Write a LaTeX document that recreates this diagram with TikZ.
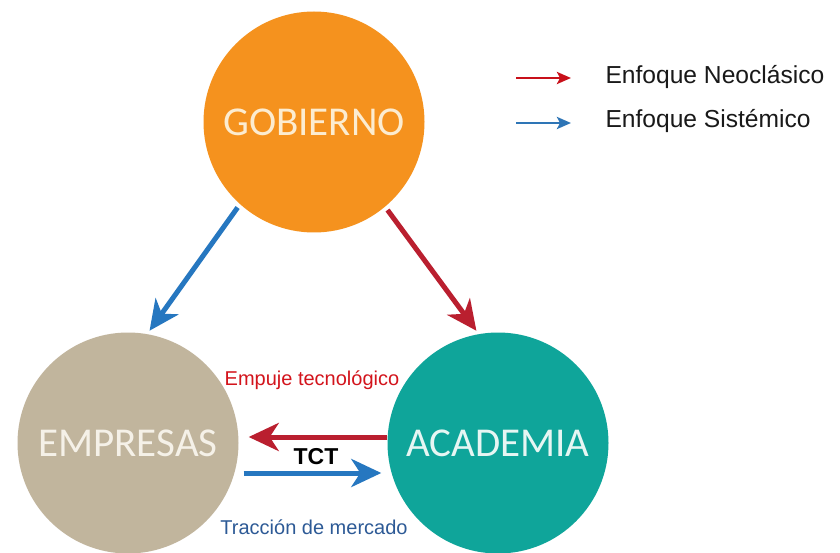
\documentclass[tikz,border=0pt]{standalone}
\usepackage{fontspec}
\setmainfont{Liberation Sans}
\newfontfamily\circfont{Carlito}
\usetikzlibrary{arrows.meta}
\definecolor{orangeC}{HTML}{F5921E}
\definecolor{beigeC}{HTML}{C1B59D}
\definecolor{tealC}{HTML}{0FA59A}
\definecolor{redA}{HTML}{BA1F2F}
\definecolor{blueA}{HTML}{2677C0}
\definecolor{redL}{HTML}{C8101A}
\definecolor{blueL}{HTML}{2E75B6}
\definecolor{redT}{HTML}{D3141C}
\definecolor{blueT}{HTML}{2D5A96}
\tikzset{
  actor/.style={circle, minimum size=221pt, inner sep=0pt, font=\circfont\fontsize{41}{41}\selectfont},
  bigarrow/.style={line width=5pt, -{Stealth[length=30pt,width=28pt,inset=9pt]}},
  legarrow/.style={line width=2.8pt, -{Stealth[length=14pt,width=12pt,inset=3pt]}},
  legtext/.style={anchor=west, font=\fontsize{24.6}{24.6}\selectfont, text=black!90},
  flowlabel/.style={font=\fontsize{20}{20}\selectfont}
}
\begin{document}
\begin{tikzpicture}[x=1pt,y=1pt]
\useasboundingbox (0,0) rectangle (840,552);
\fill[white] (0,0) rectangle (840,552);
% circles
\node[actor, fill=orangeC, text={rgb,255:red,252;green,236;blue,208}] (gob) at (314,430) {GOBIERNO};
\node[actor, fill=beigeC, text={rgb,255:red,245;green,241;blue,232}] (emp) at (128,109) {EMPRESAS};
\node[actor, fill=tealC, text={rgb,255:red,230;green,246;blue,243}] (aca) at (498,109) {ACADEMIA};
% diagonal arrows
\draw[bigarrow, blueA, shorten <=4pt, shorten >=4pt] (gob.228) -- (emp.80);
\draw[bigarrow, redA, shorten <=4pt, shorten >=4pt] (gob.310) -- (aca.100);
% horizontal arrows
\draw[bigarrow, redA] ([yshift=6pt]aca.west) -- ([shift={(10pt,6pt)}]emp.east);
\draw[bigarrow, blueA] ([shift={(5pt,-30pt)}]emp.east) -- ([shift={(-6pt,-30pt)}]aca.west);
% labels
\node[flowlabel, text=redT] (empuje) at (312,172) {Empuje tecnológico};
\node[font=\bfseries\fontsize{23}{23}\selectfont] (tct) at (316,95) {TCT};
\node[flowlabel, text=blueT] (traccion) at (314,25) {Tracción de mercado};
% legend
\coordinate (l1a) at (516,474);
\coordinate (l1b) at (571,474);
\coordinate (l2a) at (516,429);
\coordinate (l2b) at (571,429);
\draw[legarrow, redL] (l1a) -- (l1b);
\draw[legarrow, blueL] (l2a) -- (l2b);
\node[legtext] (leg1) at (602,475) {Enfoque Neoclásico};
\node[legtext] (leg2) at (602,431) {Enfoque Sistémico};
\end{tikzpicture}
\end{document}
